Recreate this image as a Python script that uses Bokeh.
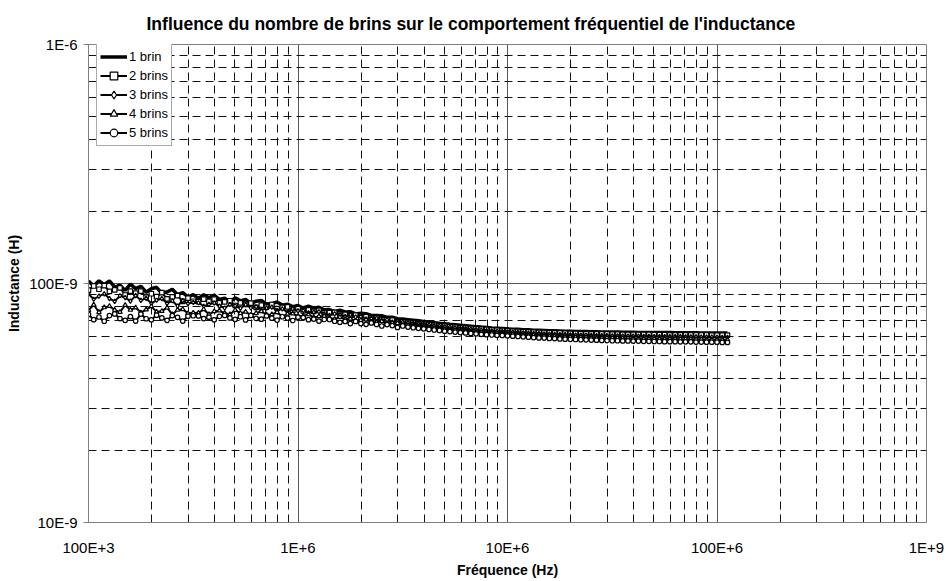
from bokeh.plotting import figure
from bokeh.models import FixedTicker, Legend, LegendItem, ColumnDataSource, CustomJSTickFormatter
from bokeh.embed import file_html
from bokeh.resources import INLINE

TITLE = "Influence du nombre de brins sur le comportement fréquentiel de l'inductance"
X_LABEL = "Fréquence (Hz)"
Y_LABEL = "Inductance (H)"

# Sweep frequencies (kHz)
FREQ_KHZ = [
    100.0, 105.9, 112.2, 118.9, 125.9, 133.4, 141.3, 149.6, 158.5, 167.9,
    177.8, 188.4, 199.5, 211.3, 223.9, 237.1, 251.2, 266.1, 281.8, 298.5,
    316.2, 335.0, 354.8, 375.8, 398.1, 421.7, 446.7, 473.2, 501.2, 530.9,
    562.3, 595.7, 631.0, 668.3, 707.9, 749.9, 794.3, 841.4, 891.3, 944.1,
    1000, 1059, 1122, 1189, 1259, 1334, 1413, 1496, 1585, 1679,
    1778, 1884, 1995, 2113, 2239, 2371, 2512, 2661, 2818, 2985,
    3162, 3350, 3548, 3758, 3981, 4217, 4467, 4732, 5012, 5309,
    5623, 5957, 6310, 6683, 7079, 7499, 7943, 8414, 8913, 9441,
    10000, 10593, 11220, 11885, 12589, 13335, 14125, 14962, 15849, 16788,
    17783, 18836, 19953, 21135, 22387, 23714, 25119, 26607, 28184, 29854,
    31623, 33497, 35481, 37584, 39811, 42170, 44668, 47315, 50119, 53088,
    56234, 59566, 63096, 66834, 70795, 74989, 79433, 84140, 89125, 94406,
    100000, 105925, 112202,
]

# Inductance (nH) per number of strands
L_1_BRIN = [
    102.4, 97.6, 102.6, 98.9, 102.6, 96.6, 98.4, 93.6, 99.4, 95.2,
    97.4, 91.9, 95.1, 96.4, 91.0, 92.1, 94.6, 89.8, 91.5, 87.8,
    89.8, 86.6, 89.7, 87.2, 89.5, 85.7, 86.8, 83.8, 87.1, 84.6,
    85.8, 82.5, 84.3, 84.9, 82.0, 82.4, 83.7, 81.2, 82.0, 79.9,
    80.9, 79.0, 80.3, 78.9, 79.5, 77.6, 77.8, 76.3, 77.3, 76.0,
    76.2, 74.6, 75.0, 74.8, 73.5, 73.4, 73.3, 72.2, 72.2, 71.2,
    71.0, 70.6, 70.2, 69.8, 69.4, 69.0, 68.6, 68.2, 67.9, 67.5,
    67.2, 66.9, 66.6, 66.3, 66.0, 65.7, 65.5, 65.2, 65.0, 64.8,
    64.6, 64.4, 64.3, 64.1, 64.0, 63.8, 63.7, 63.6, 63.5, 63.4,
    63.3, 63.2, 63.1, 63.0, 62.9, 62.9, 62.8, 62.8, 62.7, 62.7,
    62.6, 62.6, 62.5, 62.5, 62.5, 62.4, 62.4, 62.4, 62.3, 62.3,
    62.3, 62.3, 62.2, 62.2, 62.2, 62.2, 62.2, 62.1, 62.1, 62.1,
    62.1, 62.1, 62.1,
]
L_2_BRINS = [
    93.8, 97.6, 94.6, 98.0, 92.7, 94.1, 95.8, 89.5, 92.9, 91.2,
    93.0, 87.7, 90.6, 88.1, 91.6, 86.3, 87.9, 89.0, 84.2, 86.8,
    84.3, 83.9, 86.1, 84.2, 86.1, 82.9, 83.7, 84.7, 80.9, 82.9,
    81.8, 82.8, 79.5, 81.2, 79.7, 81.7, 78.5, 79.4, 79.9, 77.0,
    78.4, 76.8, 77.6, 76.5, 77.2, 75.3, 75.5, 75.7, 73.6, 74.3,
    73.5, 73.8, 71.9, 72.6, 71.5, 71.9, 70.6, 70.6, 70.3, 69.3,
    69.3, 68.8, 68.4, 68.0, 67.6, 67.3, 66.9, 66.6, 66.3, 66.0,
    65.7, 65.4, 65.2, 64.9, 64.7, 64.4, 64.2, 64.0, 63.8, 63.6,
    63.4, 63.2, 63.1, 62.9, 62.8, 62.6, 62.5, 62.4, 62.3, 62.2,
    62.1, 62.0, 61.9, 61.8, 61.7, 61.7, 61.6, 61.6, 61.5, 61.5,
    61.4, 61.4, 61.3, 61.3, 61.3, 61.2, 61.2, 61.2, 61.1, 61.1,
    61.1, 61.0, 61.0, 61.0, 61.0, 60.9, 60.9, 60.9, 60.9, 60.8,
    60.8, 60.8, 60.8,
]
L_3_BRINS = [
    90.5, 85.9, 88.6, 90.5, 86.5, 84.2, 88.9, 87.3, 84.4, 89.0,
    85.0, 86.6, 82.6, 85.1, 86.5, 82.6, 84.7, 80.5, 84.8, 82.4,
    83.4, 83.1, 80.3, 81.8, 82.9, 80.4, 79.0, 81.7, 80.7, 78.8,
    81.5, 79.0, 79.9, 77.4, 78.9, 79.6, 77.2, 78.3, 75.8, 78.3,
    76.8, 77.1, 75.4, 75.9, 76.2, 74.6, 73.6, 74.7, 74.0, 72.8,
    73.9, 72.4, 72.6, 71.0, 71.5, 71.6, 70.1, 70.5, 68.9, 69.9,
    68.9, 68.6, 68.2, 67.8, 67.4, 67.0, 66.6, 66.3, 65.9, 65.6,
    65.3, 65.0, 64.7, 64.4, 64.1, 63.9, 63.6, 63.4, 63.2, 63.0,
    62.8, 62.6, 62.4, 62.2, 62.0, 61.9, 61.7, 61.6, 61.5, 61.3,
    61.2, 61.1, 61.0, 60.9, 60.8, 60.8, 60.7, 60.6, 60.6, 60.5,
    60.4, 60.4, 60.3, 60.3, 60.2, 60.2, 60.1, 60.1, 60.0, 60.0,
    60.0, 59.9, 59.9, 59.9, 59.8, 59.8, 59.8, 59.7, 59.7, 59.7,
    59.6, 59.6, 59.6,
]
L_4_BRINS = [
    77.2, 81.5, 75.8, 79.4, 80.4, 77.5, 75.9, 81.2, 77.5, 79.3,
    75.6, 77.8, 80.2, 76.1, 76.6, 79.2, 74.2, 77.5, 78.0, 75.0,
    75.4, 75.3, 77.9, 74.3, 76.5, 77.0, 75.2, 74.2, 77.4, 75.1,
    76.1, 73.8, 75.1, 76.5, 74.0, 74.2, 75.8, 72.7, 74.6, 74.8,
    73.0, 73.2, 74.2, 72.1, 72.9, 73.0, 71.8, 71.0, 72.3, 70.9,
    71.2, 69.7, 70.2, 70.6, 69.1, 68.9, 69.4, 67.7, 68.4, 68.2,
    67.0, 66.9, 66.5, 66.1, 65.8, 65.4, 65.1, 64.8, 64.4, 64.1,
    63.8, 63.5, 63.3, 63.0, 62.8, 62.5, 62.3, 62.1, 61.9, 61.8,
    61.6, 61.4, 61.2, 61.0, 60.8, 60.7, 60.5, 60.4, 60.2, 60.1,
    60.0, 59.9, 59.8, 59.7, 59.6, 59.5, 59.4, 59.3, 59.3, 59.2,
    59.1, 59.1, 59.0, 59.0, 58.9, 58.9, 58.8, 58.8, 58.7, 58.7,
    58.6, 58.6, 58.6, 58.5, 58.5, 58.5, 58.4, 58.4, 58.3, 58.3,
    58.3, 58.2, 58.2,
]
L_5_BRINS = [
    74.2, 70.6, 72.4, 69.5, 73.4, 74.6, 71.3, 70.1, 72.7, 69.6,
    74.5, 71.2, 70.5, 73.7, 71.8, 70.1, 73.4, 72.2, 69.6, 73.0,
    73.3, 73.2, 71.3, 72.3, 70.5, 72.9, 73.5, 71.8, 70.8, 72.6,
    70.4, 73.5, 71.4, 70.9, 73.2, 71.6, 70.3, 72.6, 71.7, 70.0,
    72.3, 72.0, 70.6, 71.0, 69.6, 70.7, 70.7, 69.5, 68.8, 69.4,
    68.0, 69.4, 68.0, 67.5, 68.4, 67.4, 66.4, 67.3, 66.7, 65.5,
    66.4, 65.7, 65.3, 64.9, 64.6, 64.2, 63.9, 63.6, 63.2, 62.9,
    62.6, 62.3, 62.1, 61.8, 61.6, 61.3, 61.1, 60.9, 60.7, 60.6,
    60.4, 60.2, 60.0, 59.8, 59.6, 59.4, 59.2, 59.1, 58.9, 58.8,
    58.6, 58.5, 58.4, 58.3, 58.2, 58.1, 58.0, 57.9, 57.8, 57.7,
    57.6, 57.6, 57.5, 57.5, 57.4, 57.4, 57.3, 57.3, 57.2, 57.2,
    57.1, 57.1, 57.1, 57.0, 57.0, 57.0, 56.9, 56.9, 56.8, 56.8,
    56.8, 56.7, 56.7,
]

SERIES_NAMES = ["1 brin", "2 brins", "3 brins", "4 brins", "5 brins"]
SERIES_VALUES = [L_1_BRIN, L_2_BRINS, L_3_BRINS, L_4_BRINS, L_5_BRINS]
SERIES_MARKERS = [None, "square", "diamond", "triangle", "circle"]

X_TICKS = [1e5, 1e6, 1e7, 1e8, 1e9]
X_TICK_LABELS = ["100E+3", "1E+6", "10E+6", "100E+6", "1E+9"]
Y_TICKS = [1e-8, 1e-7, 1e-6]
Y_TICK_LABELS = ["10E-9", "100E-9", "1E-6"]
MINOR_MULTIPLIERS = [2, 3, 4, 5, 6, 7, 8, 9]

X_MINOR = [m * d for d in X_TICKS[:-1] for m in MINOR_MULTIPLIERS]
Y_MINOR = [m * d for d in Y_TICKS[:-1] for m in MINOR_MULTIPLIERS]

FONT = "Liberation Sans"

p = figure(
    width=946, height=581,
    x_axis_type="log", y_axis_type="log",
    x_range=(1e5, 1e9), y_range=(1e-8, 1e-6),
    output_backend="svg", toolbar_location=None,
    min_border_left=88, min_border_right=20,
    min_border_top=44, min_border_bottom=59,
    background_fill_color="white", border_fill_color="white",
)

p.title.text = TITLE
p.title.align = "left"
p.title.offset = 58
p.title.standoff = 22
p.title.text_font = FONT
p.title.text_font_size = "17.5px"
p.title.text_font_style = "bold"
p.title.text_color = "black"

p.outline_line_color = "#808080"
p.outline_line_width = 1

fmt_code = """
for (let i = 0; i < tick_vals.length; i++) {
  if (Math.abs(Math.log10(tick) - Math.log10(tick_vals[i])) < 1e-6) { return tick_labels[i]; }
}
return "";
"""

p.xaxis.ticker = FixedTicker(ticks=X_TICKS, minor_ticks=X_MINOR)
p.yaxis.ticker = FixedTicker(ticks=Y_TICKS, minor_ticks=Y_MINOR)
p.xaxis.formatter = CustomJSTickFormatter(args=dict(tick_vals=X_TICKS, tick_labels=X_TICK_LABELS), code=fmt_code)
p.yaxis.formatter = CustomJSTickFormatter(args=dict(tick_vals=Y_TICKS, tick_labels=Y_TICK_LABELS), code=fmt_code)

for ax in (p.xaxis, p.yaxis):
    ax.axis_line_color = "#808080"
    ax.major_tick_line_color = "#808080"
    ax.minor_tick_line_color = None
    ax.major_tick_in = 0
    ax.major_label_text_font = FONT
    ax.major_label_text_font_size = "15px"
    ax.major_label_text_color = "black"
    ax.axis_label_text_font = FONT
    ax.axis_label_text_font_size = "14px"
    ax.axis_label_text_font_style = "bold"
    ax.axis_label_text_color = "black"

p.xaxis.major_tick_out = 0
p.xaxis.major_label_standoff = 12
p.xaxis.axis_label = X_LABEL
p.xaxis.axis_label_standoff = 3
p.yaxis.major_tick_out = 5
p.yaxis.major_label_standoff = 6
p.yaxis.axis_label = Y_LABEL
p.yaxis.axis_label_standoff = 4

for g in (p.xgrid, p.ygrid):
    g.grid_line_color = "#555555"
    g.grid_line_width = 1
    g.minor_grid_line_color = "#111111"
    g.minor_grid_line_width = 1
    g.minor_grid_line_dash = "8 5"

items = []
for name, vals, marker in zip(SERIES_NAMES, SERIES_VALUES, SERIES_MARKERS):
    src = ColumnDataSource(dict(
        f=[v * 1e3 for v in FREQ_KHZ],
        L=[v * 1e-9 for v in vals],
    ))
    rs = []
    if marker is None:
        rs.append(p.line("f", "L", source=src, line_color="black", line_width=3.5))
    else:
        rs.append(p.line("f", "L", source=src, line_color="black", line_width=2))
        rs.append(p.scatter("f", "L", source=src, marker=marker, size=4.5,
                            fill_color="white", line_color="black", line_width=1.2))
    items.append(LegendItem(label=name, renderers=rs))

legend = Legend(
    items=items, location=(8, 376),
    label_text_font=FONT, label_text_font_size="13px", label_text_color="black",
    glyph_width=27, glyph_height=19, label_height=19, label_standoff=2,
    spacing=0, padding=3, margin=0,
    border_line_color="#555555", border_line_width=1,
    background_fill_color="white", background_fill_alpha=1,
)
p.add_layout(legend, "center")

open("out.html", "w").write(file_html(p, INLINE))
